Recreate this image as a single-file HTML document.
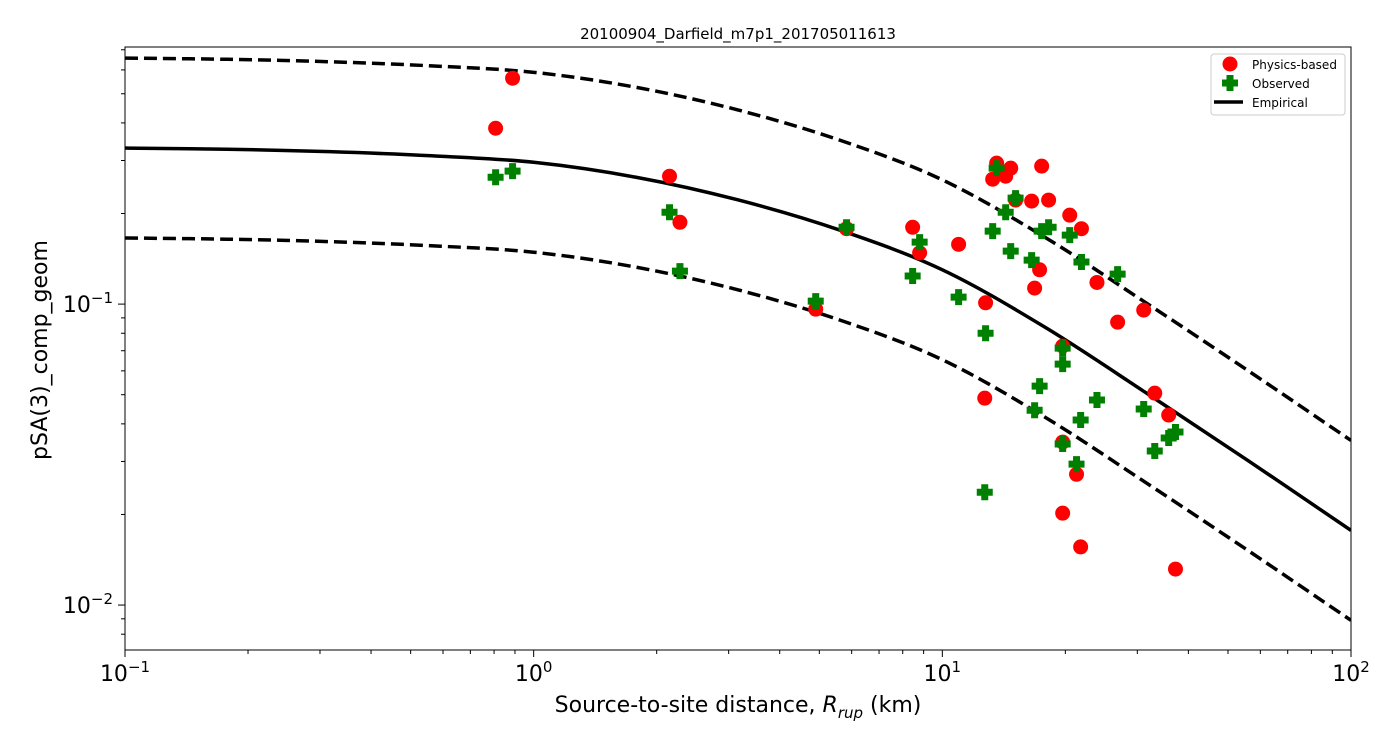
<!DOCTYPE html>
<html><head><meta charset="utf-8"><style>
body{margin:0;background:#fff;}
svg{display:block;font-family:"DejaVu Sans","Liberation Sans",sans-serif;}
</style></head><body>
<svg id="chart" width="1400" height="750"></svg>
<script>
const physDist=[0.807,0.888,2.15,2.28,4.90,5.83,8.46,8.80,10.96,12.76,12.70,13.28,13.58,14.29,14.70,15.11,16.54,16.82,17.30,17.50,18.2,19.7,19.7,19.7,20.5,21.3,21.8,21.9,23.9,26.85,31.1,33.1,35.8,37.2];
const physVal=[0.384,0.563,0.266,0.187,0.0962,0.178,0.180,0.148,0.158,0.101,0.0487,0.260,0.294,0.266,0.283,0.2216,0.2199,0.113,0.130,0.2874,0.2216,0.0725,0.0348,0.0202,0.1975,0.0272,0.0156,0.178,0.118,0.0871,0.0955,0.0506,0.0428,0.01317];
const obsDist=[0.807,0.888,2.15,2.28,4.90,5.83,8.46,8.80,10.96,12.76,12.70,13.28,13.58,14.29,14.70,15.11,16.54,16.82,17.30,17.50,18.2,19.7,19.7,19.7,20.5,21.3,21.8,21.9,23.9,26.85,31.1,33.1,35.8,37.2];
const obsVal=[0.264,0.2766,0.202,0.1287,0.1023,0.180,0.124,0.1607,0.1055,0.080,0.0237,0.1748,0.283,0.202,0.150,0.225,0.140,0.0444,0.0534,0.1748,0.180,0.0714,0.0632,0.0343,0.1695,0.0294,0.0412,0.138,0.048,0.1258,0.0448,0.0325,0.0359,0.0376];
const empDist=[0.1,0.178,0.316,0.562,1,1.78,3.16,5.62,10,17.8,31.6,56.2,100];
const empMed=[0.330,0.327,0.321,0.311,0.296,0.264,0.222,0.176,0.130,0.0839,0.0506,0.0301,0.0177];
const sigmaFactor=[1.99];
const xTicks=[0.1,1,10,100];
const xTickExp=["-1","0","1","2"];
const yTicks=[0.1,0.01];
const yTickExp=["-1","-2"];

const NS="http://www.w3.org/2000/svg";
const svg=document.getElementById('chart');
const L=125,R=1351,T=47,B=650;
const X=d=>L+(Math.log10(d)+1)*(R-L)/3;
const yTop=Math.log10(0.715),yBot=Math.log10(0.00709);
const Y=v=>T+(yTop-Math.log10(v))/(yTop-yBot)*(B-T);
function mk(tag,attrs,parent){const e=document.createElementNS(NS,tag);for(const k in attrs)e.setAttribute(k,attrs[k]);(parent||svg).appendChild(e);return e;}

const clip=mk('clipPath',{id:'pc'});mk('rect',{x:L,y:T,width:R-L,height:B-T},clip);
const plot=mk('g',{'clip-path':'url(#pc)'});



function curvePath(ds,vs){
  const p=ds.map((d,i)=>[X(d),Y(vs[i])]);
  let s=`M${p[0][0]},${p[0][1]}`;
  for(let i=0;i<p.length-1;i++){
    const p0=p[i-1]||p[i],p1=p[i],p2=p[i+1],p3=p[i+2]||p[i+1];
    const c1=[p1[0]+(p2[0]-p0[0])/6,p1[1]+(p2[1]-p0[1])/6];
    const c2=[p2[0]-(p3[0]-p1[0])/6,p2[1]-(p3[1]-p1[1])/6];
    s+=`C${c1[0]},${c1[1]} ${c2[0]},${c2[1]} ${p2[0]},${p2[1]}`;
  }
  return s;
}
const up=mk('path',{d:curvePath(empDist,empMed.map(v=>v*sigmaFactor[0])),fill:'none',stroke:'#000','stroke-width':3.5,'stroke-dasharray':'13,6'},plot);


const lo=mk('path',{d:curvePath(empDist,empMed.map(v=>v/sigmaFactor[0])),fill:'none',stroke:'#000','stroke-width':3.5,'stroke-dasharray':'13,6'},plot);


const med=mk('path',{d:curvePath(empDist,empMed),fill:'none',stroke:'#000','stroke-width':3.5},plot);



function cross(cx,cy,parent){
  const a=8,w=3.5;
  return mk('path',{d:`M${cx-w},${cy-a}H${cx+w}V${cy-w}H${cx+a}V${cy+w}H${cx+w}V${cy+a}H${cx-w}V${cy+w}H${cx-a}V${cy-w}H${cx-w}Z`,fill:'#008000'},parent);
}
physDist.forEach((d,i)=>{
  const c=mk('circle',{cx:X(d),cy:Y(physVal[i]),r:7.5,fill:'#ff0000'},plot);
  
  
});
obsDist.forEach((d,i)=>{
  const c=cross(X(d),Y(obsVal[i]),plot);
  
  
});

const frame=mk('rect',{x:L,y:T,width:R-L,height:B-T,fill:'none',stroke:'#000','stroke-width':1});



for(let dec=-1;dec<2;dec++)for(let m=2;m<10;m++){const x=X(m*Math.pow(10,dec));mk('line',{x1:x,x2:x,y1:B,y2:B+4,stroke:'#000','stroke-width':1});}
xTicks.forEach((t,i)=>{
  const x=X(t);mk('line',{x1:x,x2:x,y1:B,y2:B+7,stroke:'#000','stroke-width':1});
  const tx=mk('text',{x:x,y:681,'text-anchor':'middle','font-size':22});
  tx.innerHTML=`10<tspan dy="-9" font-size="15">${xTickExp[i].replace('-','−')}</tspan>`;
  
  
});
for(let dec=-3;dec<0;dec++)for(let m=2;m<10;m++){const v=m*Math.pow(10,dec);const y=Y(v);if(y>T&&y<B)mk('line',{x1:L-4,x2:L,y1:y,y2:y,stroke:'#000','stroke-width':1});}
yTicks.forEach((t,i)=>{
  const y=Y(t);mk('line',{x1:L-7,x2:L,y1:y,y2:y,stroke:'#000','stroke-width':1});
  const tx=mk('text',{x:L-12,y:y+8,'text-anchor':'end','font-size':22});
  tx.innerHTML=`10<tspan dy="-9" font-size="15">${yTickExp[i].replace('-','−')}</tspan>`;
  
  
});
</script>
<div style="position:absolute;left:0;top:0;width:1400px;height:750px;pointer-events:none;">
<svg width="1400" height="750" style="position:absolute;left:0;top:0" font-family="DejaVu Sans, Liberation Sans, sans-serif">
<text x="738" y="39" text-anchor="middle" font-size="15">20100904_Darfield_m7p1_201705011613</text>
<text x="738" y="712" text-anchor="middle" font-size="22">Source-to-site distance, <tspan font-style="italic">R</tspan><tspan font-style="italic" font-size="15" dy="6">rup</tspan><tspan dy="-6"> (km)</tspan></text>
<text transform="translate(47,350) rotate(-90)" text-anchor="middle" font-size="22">pSA(3)_comp_geom</text>
<g>
<rect x="1211" y="54" width="134" height="61" rx="3" fill="#fff" stroke="#ccc"/>
<circle cx="1230" cy="64" r="7.5" fill="#ff0000"/>
<text x="1252" y="69" font-size="12">Physics-based</text>
<path d="M1226.5,75H1233.5V79.5H1238V86.5H1233.5V91H1226.5V86.5H1222V79.5H1226.5Z" fill="#008000"/>
<text x="1252" y="88" font-size="12">Observed</text>
<line x1="1214" y1="102" x2="1243" y2="102" stroke="#000" stroke-width="3.5"/>
<text x="1252" y="107" font-size="12">Empirical</text>
</g>
</svg></div>
</body></html>
